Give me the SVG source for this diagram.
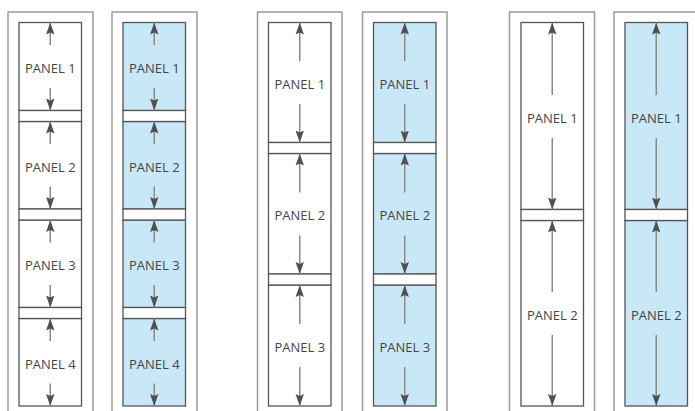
<svg xmlns="http://www.w3.org/2000/svg" width="695" height="411" viewBox="0 0 695 411">
<style>
.frame{fill:none;stroke:#9a9a9a;stroke-width:1.5}
.pw{fill:#ffffff;stroke:#555555;stroke-width:1.3}
.pb{fill:#c8e8f8;stroke:#555555;stroke-width:1.3}
.sep{fill:#ffffff;stroke:#555555;stroke-width:1.3}
.lbl{font-family:"Open Sans","Liberation Sans",sans-serif;font-size:13px;fill:#454545;text-anchor:middle}
.arr{stroke:#8a8a8a;stroke-width:1.5;fill:none;marker-end:url(#ah)}
</style>
<defs>
<marker id="ah" markerUnits="userSpaceOnUse" markerWidth="13" markerHeight="10" refX="12" refY="4.5" orient="auto" viewBox="0 0 13 10">
<path d="M0,0.3 L12,4.5 L0,8.7 L2,4.5 Z" fill="#505050"/>
</marker>
</defs>
<rect width="695" height="411" fill="#ffffff"/>
<g id="frames">
<path class="frame" d="M8,412 V12 H93 V412"/>
<path class="frame" d="M112,412 V12 H197 V412"/>
<path class="frame" d="M257.5,412 V12 H342 V412"/>
<path class="frame" d="M362.5,412 V12 H447 V412"/>
<path class="frame" d="M509.5,412 V12 H594.5 V412"/>
<path class="frame" d="M614,412 V12 H699 V412"/>
</g>
<!-- column 1 -->
<g id="c1-panel1"><rect class="pw" x="19" y="22.5" width="62.5" height="88"/><text class="lbl" x="50.25" y="73">PANEL 1</text></g>
<g id="c1-panel2"><rect class="pw" x="19" y="121.5" width="62.5" height="87.5"/><text class="lbl" x="50.25" y="171.75">PANEL 2</text></g>
<g id="c1-panel3"><rect class="pw" x="19" y="220" width="62.5" height="87.5"/><text class="lbl" x="50.25" y="270.25">PANEL 3</text></g>
<g id="c1-panel4"><rect class="pw" x="19" y="318.5" width="62.5" height="87.5"/><text class="lbl" x="50.25" y="368.75">PANEL 4</text></g>
<g id="c1-seps">
<rect class="sep" x="19" y="110.5" width="62.5" height="11"/>
<rect class="sep" x="19" y="209" width="62.5" height="11"/>
<rect class="sep" x="19" y="307.5" width="62.5" height="11"/>
</g>
<!-- column 2 -->
<g id="c2-panel1"><rect class="pb" x="123" y="22.5" width="62.5" height="88"/><text class="lbl" x="154.25" y="73">PANEL 1</text></g>
<g id="c2-panel2"><rect class="pb" x="123" y="121.5" width="62.5" height="87.5"/><text class="lbl" x="154.25" y="171.75">PANEL 2</text></g>
<g id="c2-panel3"><rect class="pb" x="123" y="220" width="62.5" height="87.5"/><text class="lbl" x="154.25" y="270.25">PANEL 3</text></g>
<g id="c2-panel4"><rect class="pb" x="123" y="318.5" width="62.5" height="87.5"/><text class="lbl" x="154.25" y="368.75">PANEL 4</text></g>
<g id="c2-seps">
<rect class="sep" x="123" y="110.5" width="62.5" height="11"/>
<rect class="sep" x="123" y="209" width="62.5" height="11"/>
<rect class="sep" x="123" y="307.5" width="62.5" height="11"/>
</g>
<!-- column 3 -->
<g id="c3-panel1"><rect class="pw" x="268.5" y="22.5" width="62.5" height="120"/><text class="lbl" x="299.75" y="89">PANEL 1</text></g>
<g id="c3-panel2"><rect class="pw" x="268.5" y="153.5" width="62.5" height="120.5"/><text class="lbl" x="299.75" y="220.25">PANEL 2</text></g>
<g id="c3-panel3"><rect class="pw" x="268.5" y="285" width="62.5" height="121"/><text class="lbl" x="299.75" y="352">PANEL 3</text></g>
<g id="c3-seps">
<rect class="sep" x="268.5" y="142.5" width="62.5" height="11"/>
<rect class="sep" x="268.5" y="274" width="62.5" height="11"/>
</g>
<!-- column 4 -->
<g id="c4-panel1"><rect class="pb" x="373.5" y="22.5" width="62.5" height="120"/><text class="lbl" x="404.75" y="89">PANEL 1</text></g>
<g id="c4-panel2"><rect class="pb" x="373.5" y="153.5" width="62.5" height="120.5"/><text class="lbl" x="404.75" y="220.25">PANEL 2</text></g>
<g id="c4-panel3"><rect class="pb" x="373.5" y="285" width="62.5" height="121"/><text class="lbl" x="404.75" y="352">PANEL 3</text></g>
<g id="c4-seps">
<rect class="sep" x="373.5" y="142.5" width="62.5" height="11"/>
<rect class="sep" x="373.5" y="274" width="62.5" height="11"/>
</g>
<!-- column 5 -->
<g id="c5-panel1"><rect class="pw" x="521" y="22.5" width="62.5" height="187"/><text class="lbl" x="552.25" y="122.5">PANEL 1</text></g>
<g id="c5-panel2"><rect class="pw" x="521" y="220.5" width="62.5" height="185.5"/><text class="lbl" x="552.25" y="319.75">PANEL 2</text></g>
<g id="c5-seps"><rect class="sep" x="521" y="209.5" width="62.5" height="11"/></g>
<!-- column 6 -->
<g id="c6-panel1"><rect class="pb" x="625" y="22.5" width="62.5" height="187"/><text class="lbl" x="656.25" y="122.5">PANEL 1</text></g>
<g id="c6-panel2"><rect class="pb" x="625" y="220.5" width="62.5" height="185.5"/><text class="lbl" x="656.25" y="319.75">PANEL 2</text></g>
<g id="c6-seps"><rect class="sep" x="625" y="209.5" width="62.5" height="11"/></g>
<g id="connectors">
<!-- col1 -->
<path class="arr" d="M50.25,45 V22.5"/><path class="arr" d="M50.25,88 V110.5"/>
<path class="arr" d="M50.25,144 V121.5"/><path class="arr" d="M50.25,186.5 V209"/>
<path class="arr" d="M50.25,242.5 V220"/><path class="arr" d="M50.25,285 V307.5"/>
<path class="arr" d="M50.25,341 V318.5"/><path class="arr" d="M50.25,383.5 V406"/>
<!-- col2 -->
<path class="arr" d="M154.25,45 V22.5"/><path class="arr" d="M154.25,88 V110.5"/>
<path class="arr" d="M154.25,144 V121.5"/><path class="arr" d="M154.25,186.5 V209"/>
<path class="arr" d="M154.25,242.5 V220"/><path class="arr" d="M154.25,285 V307.5"/>
<path class="arr" d="M154.25,341 V318.5"/><path class="arr" d="M154.25,383.5 V406"/>
<!-- col3 -->
<path class="arr" d="M299.75,61 V22.5"/><path class="arr" d="M299.75,104 V142.5"/>
<path class="arr" d="M299.75,192.5 V153.5"/><path class="arr" d="M299.75,235.5 V274"/>
<path class="arr" d="M299.75,324 V285"/><path class="arr" d="M299.75,367 V406"/>
<!-- col4 -->
<path class="arr" d="M404.75,61 V22.5"/><path class="arr" d="M404.75,104 V142.5"/>
<path class="arr" d="M404.75,192.5 V153.5"/><path class="arr" d="M404.75,235.5 V274"/>
<path class="arr" d="M404.75,324 V285"/><path class="arr" d="M404.75,367 V406"/>
<!-- col5 -->
<path class="arr" d="M552.25,95 V22.5"/><path class="arr" d="M552.25,138 V209.5"/>
<path class="arr" d="M552.25,292 V220.5"/><path class="arr" d="M552.25,335 V406"/>
<!-- col6 -->
<path class="arr" d="M656.25,95 V22.5"/><path class="arr" d="M656.25,138 V209.5"/>
<path class="arr" d="M656.25,292 V220.5"/><path class="arr" d="M656.25,335 V406"/>
</g>
</svg>
